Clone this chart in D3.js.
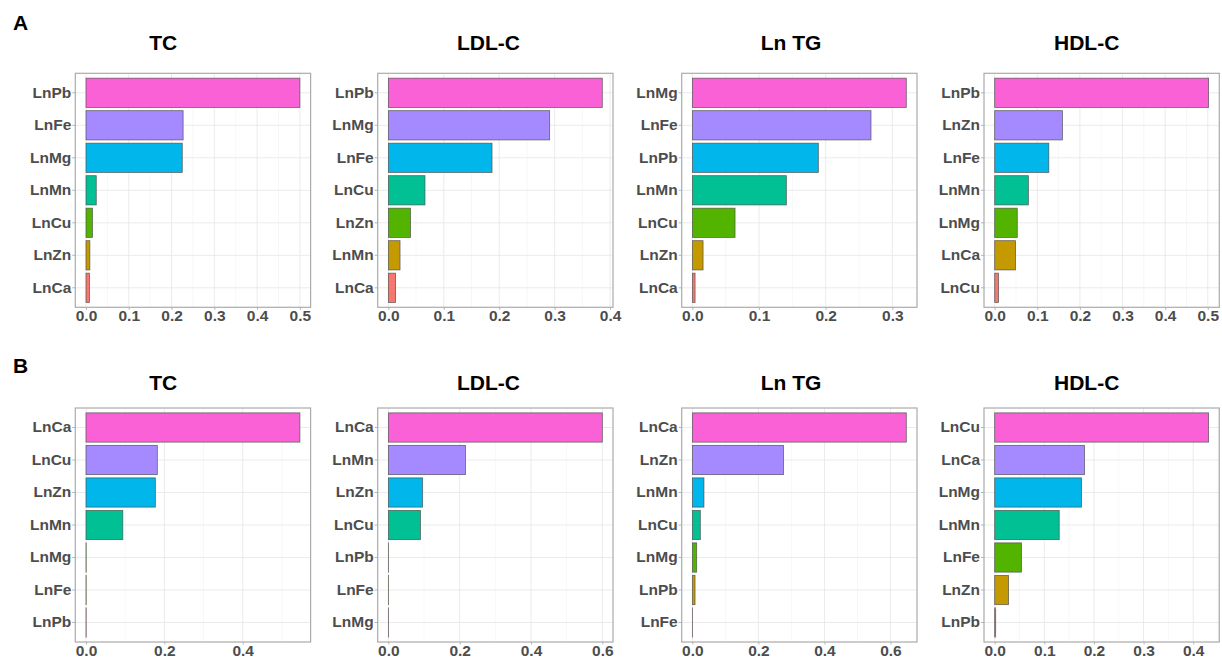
<!DOCTYPE html>
<html>
<head>
<meta charset="utf-8">
<script src="https://cdn.jsdelivr.net/npm/d3@7"></script>
<style>
  body { margin: 0; background: #fff; }
  svg { font-family: "Liberation Sans", Arial, sans-serif; }
</style>
</head>
<body>
<div id="chart"></div>
<script>
// ---- data (top bar first) ----
const outcomes = ["TC", "LDL-C", "Ln TG", "HDL-C"];
const rowLetters = ["A", "B"];

const aTC_names = ["LnPb", "LnFe", "LnMg", "LnMn", "LnCu", "LnZn", "LnCa"];
const aTC_vals  = [0.500, 0.227, 0.225, 0.024, 0.015, 0.009, 0.008];
const aTC_ticks = [0, 0.1, 0.2, 0.3, 0.4, 0.5];

const aLDL_names = ["LnPb", "LnMg", "LnFe", "LnCu", "LnZn", "LnMn", "LnCa"];
const aLDL_vals  = [0.386, 0.291, 0.187, 0.066, 0.040, 0.021, 0.013];
const aLDL_ticks = [0, 0.1, 0.2, 0.3, 0.4];

const aTG_names = ["LnMg", "LnFe", "LnPb", "LnMn", "LnCu", "LnZn", "LnCa"];
const aTG_vals  = [0.321, 0.268, 0.189, 0.141, 0.064, 0.016, 0.004];
const aTG_ticks = [0, 0.1, 0.2, 0.3];

const aHDL_names = ["LnPb", "LnZn", "LnFe", "LnMn", "LnMg", "LnCa", "LnCu"];
const aHDL_vals  = [0.502, 0.159, 0.127, 0.079, 0.053, 0.049, 0.009];
const aHDL_ticks = [0, 0.1, 0.2, 0.3, 0.4, 0.5];

const bTC_names = ["LnCa", "LnCu", "LnZn", "LnMn", "LnMg", "LnFe", "LnPb"];
const bTC_vals  = [0.546, 0.182, 0.177, 0.094, 0.0005, 0.0005, 0.0005];
const bTC_ticks = [0, 0.2, 0.4];

const bLDL_names = ["LnCa", "LnMn", "LnZn", "LnCu", "LnPb", "LnFe", "LnMg"];
const bLDL_vals  = [0.600, 0.216, 0.096, 0.090, 0.0005, 0.0005, 0.0005];
const bLDL_ticks = [0, 0.2, 0.4, 0.6];

const bTG_names = ["LnCa", "LnZn", "LnMn", "LnCu", "LnMg", "LnPb", "LnFe"];
const bTG_vals  = [0.648, 0.276, 0.035, 0.024, 0.013, 0.008, 0.0005];
const bTG_ticks = [0, 0.2, 0.4, 0.6];

const bHDL_names = ["LnCu", "LnCa", "LnMg", "LnMn", "LnFe", "LnZn", "LnPb"];
const bHDL_vals  = [0.431, 0.181, 0.175, 0.130, 0.054, 0.028, 0.002];
const bHDL_ticks = [0, 0.1, 0.2, 0.3, 0.4];

// ggplot hue palette, first level = bottom bar
const hueColours = ["#F8766D", "#C49A00", "#53B400", "#00C094", "#00B6EB", "#A58AFF", "#FB61D7"];

// ---- layout ----
const W = 1222, H = 659;
const colLeft = [75.3, 377.7, 681.7, 984];
const panelW = 235.3;
const rowTop = [73.3, 408];
const panelH = 234;
const titleX = [163.3, 488.5, 791, 1086.7];
const titleY = [49.5, 389.5];
const letterY = [30, 373];

const panels = [
  [aTC_names, aTC_vals, aTC_ticks], [aLDL_names, aLDL_vals, aLDL_ticks],
  [aTG_names, aTG_vals, aTG_ticks], [aHDL_names, aHDL_vals, aHDL_ticks],
  [bTC_names, bTC_vals, bTC_ticks], [bLDL_names, bLDL_vals, bLDL_ticks],
  [bTG_names, bTG_vals, bTG_ticks], [bHDL_names, bHDL_vals, bHDL_ticks]
];

const svg = d3.select("#chart").append("svg")
  .attr("width", W).attr("height", H);

rowLetters.forEach((l, r) => {
  svg.append("text")
    .attr("x", 13).attr("y", letterY[r])
    .style("font-size", "21px").style("font-weight", "bold")
    .text(l);
});

panels.forEach(([names, vals, ticks], i) => {
  const r = Math.floor(i / 4), c = i % 4;
  const left = colLeft[c], top = rowTop[r];
  const max = d3.max(vals);

  const x = d3.scaleLinear()
    .domain([-0.05 * max, 1.05 * max])
    .range([left, left + panelW]);
  const y = d3.scaleBand()
    .domain(names)
    .range([top, top + panelH])
    .paddingInner(0.1)
    .paddingOuter(0.15);

  const g = svg.append("g");

  // minor grid (midpoints, plus one step beyond each end if visible)
  const step = ticks[1] - ticks[0];
  const minors = [];
  for (let k = -1; k < ticks.length; k++) {
    const m = ticks[0] + (k + 0.5) * step;
    if (m >= x.domain()[0] && m <= x.domain()[1]) minors.push(m);
  }
  g.selectAll(".minor").data(minors).join("line")
    .attr("x1", d => x(d)).attr("x2", d => x(d))
    .attr("y1", top).attr("y2", top + panelH)
    .attr("stroke", "#f2f2f2").attr("stroke-width", 0.6);

  // major grid
  g.selectAll(".vmajor").data(ticks).join("line")
    .attr("x1", d => x(d)).attr("x2", d => x(d))
    .attr("y1", top).attr("y2", top + panelH)
    .attr("stroke", "#e6e6e6").attr("stroke-width", 0.8);
  g.selectAll(".hmajor").data(names).join("line")
    .attr("x1", left).attr("x2", left + panelW)
    .attr("y1", d => y(d) + y.bandwidth() / 2).attr("y2", d => y(d) + y.bandwidth() / 2)
    .attr("stroke", "#e6e6e6").attr("stroke-width", 0.8);

  // bars
  const n = names.length;
  g.selectAll(".bar").data(names).join("rect")
    .attr("x", x(0))
    .attr("y", d => y(d))
    .attr("width", (d, k) => x(vals[k]) - x(0))
    .attr("height", y.bandwidth())
    .attr("fill", (d, k) => hueColours[n - 1 - k])
    .attr("stroke", "#4a4a4a")
    .attr("stroke-opacity", 0.8)
    .attr("stroke-width", 0.8);

  // border
  g.append("rect")
    .attr("x", left).attr("y", top)
    .attr("width", panelW).attr("height", panelH)
    .attr("fill", "none").attr("stroke", "#ababab").attr("stroke-width", 1.2);

  // x axis
  const xa = g.append("g")
    .attr("transform", `translate(0,${top + panelH})`)
    .call(d3.axisBottom(x).tickValues(ticks).tickFormat(d3.format(".1f"))
      .tickSize(2.5).tickPadding(0));
  xa.select(".domain").remove();
  xa.selectAll("line").attr("stroke", "#b3b3b3");
  xa.selectAll("text")
    .style("font-size", "15.5px").style("font-weight", "bold")
    .attr("fill", "#4d4d4d").attr("dy", "0.72em");

  // y axis
  const ya = g.append("g")
    .attr("transform", `translate(${left},0)`)
    .call(d3.axisLeft(y).tickSize(3).tickPadding(1));
  ya.select(".domain").remove();
  ya.selectAll("line").attr("stroke", "#b3b3b3");
  ya.selectAll("text")
    .style("font-size", "15.5px").style("font-weight", "bold")
    .attr("fill", "#4d4d4d");

  // title
  svg.append("text")
    .attr("x", titleX[c]).attr("y", titleY[r])
    .attr("text-anchor", "middle")
    .style("font-size", "21px").style("font-weight", "bold")
    .text(outcomes[c]);
});
</script>
</body>
</html>
